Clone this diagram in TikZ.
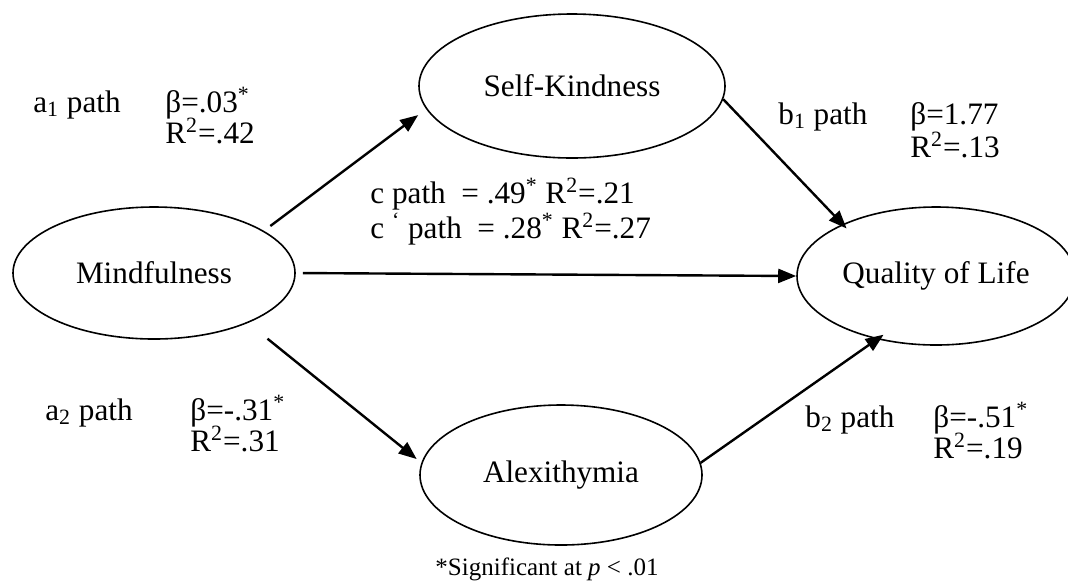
\documentclass[tikz,border=0pt]{standalone}
\usepackage{fontspec}
\setmainfont{Liberation Serif}
\usetikzlibrary{shapes.geometric,arrows.meta,positioning}

\begin{document}
\begin{tikzpicture}[
    x=0.5pt, y=-0.5pt,
    font=\fontsize{15.6}{18}\selectfont,
    latent/.style={ellipse, draw, line width=0.8pt, inner sep=0pt},
    arrow/.style={line width=1.2pt, -{Triangle[length=9pt,width=7pt]}},
    coef/.style={anchor=base west, inner sep=0pt}
]
    \useasboundingbox (0,0) rectangle (1068,585);

    % Variables
    \node [latent, minimum width=141pt, minimum height=66pt] (mind) at (154,273) {Mindfulness};
    \node [latent, minimum width=153pt, minimum height=72pt] (self) at (572,86) {Self-Kindness};
    \node [latent, minimum width=141pt, minimum height=70pt] (alex) at (561,475) {Alexithymia};
    \node [latent, minimum width=139pt, minimum height=69pt] (qol) at (936,276) {Quality of Life};

    % Paths
    \draw [arrow, shorten <=4pt, shorten >=5pt] (mind.21) -- (self.189);
    \draw [arrow, shorten <=3.5pt] (mind.east) -- (qol.west);
    \draw [arrow, shorten <=12.5pt, shorten >=3pt] (mind.-28) -- (alex.175);
    \draw [arrow, shorten >=-3pt] (self.-5) -- (qol.151);
    \draw [arrow, shorten >=-4pt] (alex.5) -- (qol.227);

    % Coefficients
    \node [coef] (a1) at (33,112) {a\textsubscript{1} path};
    \node [coef] (a1beta) at (165,112) {β=.03\textsuperscript{*}};
    \node [coef] (a1r) at (165,143) {R\textsuperscript{2}=.42};

    \node [coef] (b1) at (778,124) {b\textsubscript{1} path};
    \node [coef] (b1beta) at (910,124) {β=1.77};
    \node [coef] (b1r) at (910,157) {R\textsuperscript{2}=.13};

    \node [coef] (c) at (370,203) {c path\ \ = .49\textsuperscript{*} R\textsuperscript{2}=.21};
    \node [coef] (cprime) at (370,238) {c \textsuperscript{\textquoteleft} path\ \ = .28\textsuperscript{*} R\textsuperscript{2}=.27};

    \node [coef] (a2) at (45,420) {a\textsubscript{2} path};
    \node [coef] (a2beta) at (190,420) {β=-.31\textsuperscript{*}};
    \node [coef] (a2r) at (190,451) {R\textsuperscript{2}=.31};

    \node [coef] (b2) at (805,427) {b\textsubscript{2} path};
    \node [coef] (b2beta) at (933,427) {β=-.51\textsuperscript{*}};
    \node [coef] (b2r) at (933,458) {R\textsuperscript{2}=.19};

    % Note
    \node [anchor=base, inner sep=0pt, font=\fontsize{12.5}{15}\selectfont] (note) at (547,575) {*Significant at \textit{p} < .01};
\end{tikzpicture}
\end{document}
